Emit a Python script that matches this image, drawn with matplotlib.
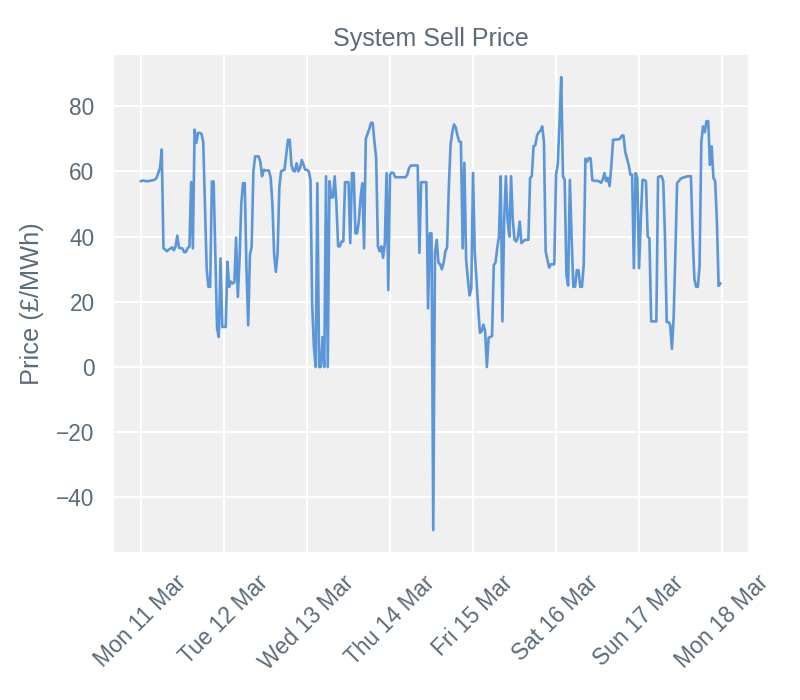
import matplotlib
matplotlib.use("Agg")
import matplotlib.pyplot as plt
import pandas as pd

start = "2024-03-11 00:00"
mon = [57.0, 57.2, 57.1, 57.0, 57.0, 57.1, 57.2, 57.3, 57.5, 58, 59.5, 61, 66.7, 36.4, 36, 35.5,
       36, 36.3, 36.7, 35.8, 37, 40.3, 36.5, 36.5, 36.3, 35.2, 35.3, 36.5, 36.9, 56.7, 36.4, 72.8,
       68.7, 71.8, 71.8, 71.5, 69, 50, 30, 24.6, 24.6, 56.9, 56.9, 35, 11.8, 9.2, 33.3, 12.3]
tue = [12.3, 12.3, 32.3, 24.6, 26.2, 25.6, 26, 39.7, 21.5, 33, 50, 56.4, 56.4, 30, 12.8, 34.4,
       37, 60, 64.6, 64.6, 64.6, 63, 58.5, 60.5, 60.3, 60.3, 60.2, 58, 50, 34.4, 29.2, 35,
       55, 60, 60.3, 60.5, 65, 69.7, 69.7, 62, 60.2, 60, 62.5, 60, 61, 63.5, 62, 60.5]
wed = [60.5, 60, 57.4, 19, 6, 0, 56.4, 0, 0, 9.2, 0, 58.5, 0, 57, 52, 52,
       58.5, 50, 37, 37, 38.5, 38.5, 56.7, 56.7, 56.7, 38, 59.5, 59.5, 41, 41, 45, 52,
       56.4, 36.4, 70, 71.5, 73, 74.9, 74.9, 69, 64, 37, 35.5, 37, 33.5, 38, 59.5, 23.6]
thu = [59, 59.7, 59.5, 58.2, 58.2, 58.2, 58.2, 58.2, 58.2, 58.2, 59, 61, 61.8, 61.8, 61.8, 61.8,
       61.8, 35, 56.7, 56.7, 56.7, 56.7, 18, 41, 41, -50, 35, 39, 32, 31.5, 30, 32,
       35.5, 36.6, 55, 68, 72, 74.4, 73.5, 71, 69.2, 69, 36.4, 62.6, 33, 27, 22, 24]
fri = [59.5, 35, 27, 18, 10.5, 11, 13, 11, 0, 9, 9.2, 9.5, 31.3, 32, 36.5, 40,
       58.5, 14, 45, 58.5, 45, 40, 58.5, 45, 39, 38.5, 40, 44.6, 38, 38.5, 39, 39,
       39, 58, 58.5, 67.7, 68, 71, 72, 72.5, 73.8, 69.2, 35.5, 33, 30.5, 31.5, 31.5, 31.5]
sat = [59, 62, 75, 88.9, 58.5, 57.4, 28.2, 25, 57.4, 40, 24.6, 24.6, 29.7, 29.7, 24.6, 24.6,
       31.3, 63.9, 63, 64.1, 64, 57.3, 57.1, 57.1, 57.1, 56.9, 56.5, 57.5, 59.5, 57, 58, 55.5,
       62, 69.7, 69.7, 69.8, 69.8, 70, 71, 71, 66, 64, 62, 59, 59, 30.3, 59.5, 58]
sun = [30.3, 45, 57.4, 57.4, 57, 40, 39.5, 14, 14, 14, 14, 58.2, 58.5, 58.5, 57, 40,
       13.8, 13.8, 13, 5.6, 15, 35, 56.4, 57, 57.7, 58, 58.2, 58.3, 58.5, 58.5, 58.5, 40,
       27, 24.6, 24.6, 31, 69, 73.8, 72, 75.4, 75.4, 62, 67.7, 58, 57.1, 45, 24.9, 25.6]

prices = mon + tue + wed + thu + fri + sat + sun
times = pd.date_range(start, periods=len(prices), freq="30min")
tick_dates = pd.date_range("2024-03-11", "2024-03-18", freq="D")
tick_labels = [d.strftime("%a %d Mar") for d in tick_dates]
y_ticks = [-40, -20, 0, 20, 40, 60, 80]
y_tick_labels = ["\u221240", "\u221220", "0", "20", "40", "60", "80"]

text_color = "#5b6b79"
plt.rcParams["font.family"] = ["Liberation Sans", "DejaVu Sans"]

fig = plt.figure(figsize=(8, 7), dpi=100)
ax = fig.add_axes([0.1425, 0.212, 0.7925, 0.709])
ax.set_facecolor("#f0f0f0")
ax.plot(times, prices, color="#5b97d8", linewidth=1.9)

ax.set_xticks(tick_dates)
ax.set_xticklabels(tick_labels, rotation=45, ha="center")
ax.set_xlim(pd.Timestamp("2024-03-11") - pd.Timedelta(hours=7.8),
            pd.Timestamp("2024-03-18") + pd.Timedelta(hours=7.5))
ax.set_ylim(-56.6, 95.6)
ax.set_yticks(y_ticks)
ax.set_yticklabels(y_tick_labels)

ax.grid(True, color="white", linewidth=1.5)
ax.set_axisbelow(True)
for s in ax.spines.values():
    s.set_visible(False)
ax.tick_params(axis="both", length=0, colors=text_color, labelsize=16.3, pad=14)
ax.set_title("System Sell Price", color=text_color, fontsize=18, pad=7)
ax.set_ylabel("Price (£/MWh)", color=text_color, fontsize=18.3, labelpad=9)

fig.savefig("out.png", dpi=100)
